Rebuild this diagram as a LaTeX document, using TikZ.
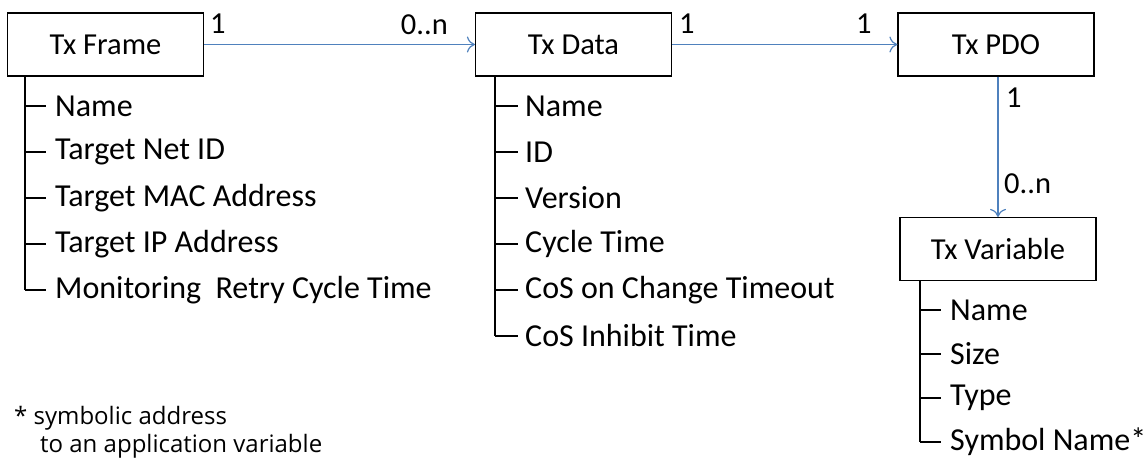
\documentclass[tikz,border=0pt]{standalone}
\usepackage{fontspec}
\setmainfont{Carlito}
\newfontfamily\notefont{Open Sans}
\usetikzlibrary{calc,arrows.meta}
\definecolor{linkblue}{RGB}{79,129,189}
\tikzset{
  classbox/.style={draw, line width=1.2pt, minimum width=196pt, minimum height=63pt,
    inner sep=0pt, font=\fontsize{30.5}{36}\selectfont},
  attr/.style={anchor=west, inner sep=0pt, font=\fontsize{32}{36}\selectfont},
  mult/.style={inner sep=0pt, font=\fontsize{30.5}{36}\selectfont},
  link/.style={draw=linkblue, line width=1.2pt, -{To[length=8pt,width=16pt]}},
  tree/.style={line width=1.2pt},
  note/.style={anchor=west, inner sep=0pt, font=\notefont\fontsize{24}{28}\selectfont}
}
\begin{document}
\begin{tikzpicture}[x=1pt, y=-1pt]
        \useasboundingbox (0,0) rectangle (1147,461);
        % Draw classes
        \node[classbox] (frame) at (105.5,44.5) {Tx Frame};
        \node[classbox] (data) at (573.5,44.5) {Tx Data};
        \node[classbox] (pdo) at (996,44.5) {Tx PDO};
        \node[classbox] (var) at (998,249) {Tx Variable};
        % Associations
        \draw[link] (frame.east) -- (data.west);
        \node[mult, anchor=west] (m1) at (210,24) {1};
        \node[mult, anchor=east] (m2) at (448,25) {0..n};
        \draw[link] (data.east) -- (pdo.west);
        \node[mult, anchor=west] (m3) at (679,24) {1};
        \node[mult, anchor=west] (m4) at (856,24) {1};
        \draw[link] (pdo.south -| var.north) -- (var.north);
        \node[mult, anchor=west] (m5) at (1006,98) {1};
        \node[mult, anchor=west] (m6) at (1004,184) {0..n};
        % Attributes of Tx Frame
        \coordinate (ftrunk) at (25,76);
        \foreach \t [count=\i] in {Name, Target Net ID, Target MAC Address,
            Target IP Address, Monitoring\ \ Retry Cycle Time}
            \node[attr] (f\i) at (55,60+46*\i) {\t};
        \foreach \i in {1,...,5}
            \draw[tree] (ftrunk |- f\i.west) -- ++(21,0);
        \draw[tree] (ftrunk) -- (ftrunk |- f5.west);
        % Attributes of Tx Data
        \coordinate (dtrunk) at (495,76);
        \foreach \t [count=\i] in {Name, ID, Version, Cycle Time,
            CoS on Change Timeout, CoS Inhibit Time}
            \node[attr] (d\i) at (525,60+46*\i) {\t};
        \foreach \i in {1,...,6}
            \draw[tree] (dtrunk |- d\i.west) -- ++(23,0);
        \draw[tree] (dtrunk) -- (dtrunk |- d6.west);
        % Attributes of Tx Variable
        \coordinate (vtrunk) at (920,280);
        \foreach \t [count=\i] in {Name, Size, Type, Symbol Name*}
            \node[attr] (v\i) at (950,266+44*\i) {\t};
        \foreach \i in {1,...,4}
            \draw[tree] (vtrunk |- v\i.west) -- ++(21,0);
        \draw[tree] (vtrunk) -- (vtrunk |- v4.west);
        % Footnote
        \node[note] (note1) at (14,418) {* symbolic address};
        \node[note] (note2) at (40,446) {to an application variable};
    \end{tikzpicture}
\end{document}
